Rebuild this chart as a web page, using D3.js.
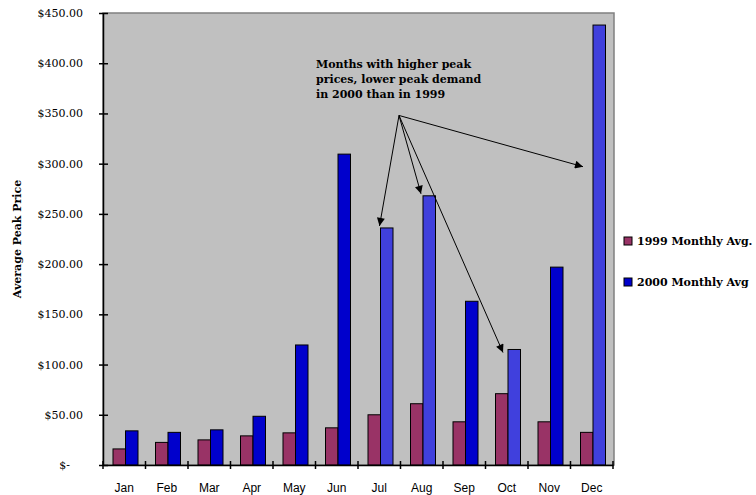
<!DOCTYPE html>
<html><head><meta charset="utf-8">
<script src="https://cdn.jsdelivr.net/npm/d3@7"></script>
<style>body{margin:0;background:#fff}svg{display:block}</style>
</head><body><svg id="c" width="756" height="495"></svg>
<script>
const months = ["Jan","Feb","Mar","Apr","May","Jun","Jul","Aug","Sep","Oct","Nov","Dec"];
const avg1999 = [16, 22.5, 25, 29, 32, 37, 50, 61, 43, 71, 43, 32.5];
const avg2000 = [34, 32.5, 35, 48.5, 119.5, 309.5, 236, 268, 163, 115, 197, 438];
const highlight2000 = ["Jul","Aug","Oct","Dec"];
const seriesNames = ["1999 Monthly Avg.","2000 Monthly Avg"];
const yTicks = [0,50,100,150,200,250,300,350,400,450];
const noteLines = ["Months with higher peak","prices, lower peak demand","in 2000 than in 1999"];
// arrow tips in data units: month and price level
const arrowTips = [
  {month:"Jul", value:238, dx:-1},
  {month:"Aug", value:270, dx:-2},
  {month:"Oct", value:112, dx:-5},
  {month:"Dec", value:297, dx:-10}
];
const arrowOrigin = {month:"Jul", value:348, dx:41};

const svg = d3.select("#c");
const L=103, R=614, T=13, B=465;
const x = d3.scaleBand().domain(months).range([L, 613]);
const x1 = d3.scaleBand().domain(["1999","2000"]).range([10, 35]);
const y = d3.scaleLinear().domain([0,450]).range([B, T]);

const defs = svg.append("defs");
defs.append("marker").attr("id","ah").attr("viewBox","0 0 10 10").attr("refX",10).attr("refY",5)
  .attr("markerWidth",10).attr("markerHeight",8).attr("markerUnits","userSpaceOnUse").attr("orient","auto")
  .append("path").attr("d","M0,0L10,5L0,10Z").attr("fill","#000");

// plot area
svg.append("rect").attr("x",L).attr("y",T).attr("width",R-L).attr("height",B-T)
  .attr("fill","#c0c0c0").attr("stroke","#808080").attr("stroke-width",1.5);

// bars
const g = svg.append("g");
months.forEach((m,i)=>{
  g.append("rect").attr("x",x(m)+x1("1999")).attr("y",y(avg1999[i])).attr("width",x1.bandwidth())
    .attr("height",y(0)-y(avg1999[i])).attr("fill","#993366").attr("stroke","#000").attr("stroke-width",1);
  g.append("rect").attr("x",x(m)+x1("2000")).attr("y",y(avg2000[i])).attr("width",x1.bandwidth())
    .attr("height",y(0)-y(avg2000[i])).attr("fill",highlight2000.includes(m)?"#4040dd":"#0000cc")
    .attr("stroke","#000").attr("stroke-width",1);
});

// y axis
const ya = svg.append("g").attr("transform",`translate(${L},0)`)
  .call(d3.axisLeft(y).tickValues(yTicks).tickSize(4).tickSizeOuter(0)
    .tickFormat(d=> d===0 ? "$-" : "$"+d3.format(".2f")(d)));
ya.select(".domain").attr("stroke","#000").attr("stroke-width",1.5);
ya.selectAll(".tick line").attr("x1",-4).attr("x2",5).attr("stroke","#000").attr("stroke-width",1.5);
ya.selectAll(".tick text").attr("x",-20).attr("font-family","DejaVu Serif").attr("font-size",11).attr("fill","#000");
ya.selectAll(".tick").filter(d=>d===0).select("text").attr("x",-33);

// x axis
const xa = svg.append("g").attr("transform",`translate(0,${B})`)
  .call(d3.axisBottom(x).tickSize(0).tickSizeOuter(0));
xa.select(".domain").attr("stroke","#000").attr("stroke-width",1.5);
xa.selectAll(".tick text").attr("y",18).attr("font-family","Liberation Sans, Arial").attr("font-size",12).attr("fill","#000");
const bnd = months.map(m=>x(m)).concat([x.range()[1]]);
xa.selectAll("line.sep").data(bnd).enter().append("line").attr("class","sep")
  .attr("x1",d=>d).attr("x2",d=>d).attr("y1",-4).attr("y2",4).attr("stroke","#000").attr("stroke-width",1.5);

// y title
svg.append("text").attr("transform","translate(21,239) rotate(-90)").attr("text-anchor","middle")
  .attr("font-family","DejaVu Serif").attr("font-weight","bold").attr("font-size",11).text("Average Peak Price");

// annotation
const note = svg.append("text").attr("x",316).attr("y",68).attr("font-family","DejaVu Serif")
  .attr("font-weight","bold").attr("font-size",11).attr("fill","#000");
noteLines.forEach((t,i)=> note.append("tspan").attr("x",316).attr("dy", i===0?0:15).text(t));
const ox = x(arrowOrigin.month)+arrowOrigin.dx, oy = y(arrowOrigin.value);
arrowTips.forEach(a=>{
  svg.append("line").attr("x1",ox).attr("y1",oy)
    .attr("x2",x(a.month)+x1("2000")+a.dx).attr("y2",y(a.value))
    .attr("stroke","#000").attr("stroke-width",1).attr("marker-end","url(#ah)");
});

// legend
const lg = svg.append("g");
seriesNames.forEach((s,i)=>{
  const cy = 241 + i*41;
  lg.append("rect").attr("x",624).attr("y",cy-4).attr("width",8).attr("height",8)
    .attr("fill", i===0?"#993366":"#0000cc").attr("stroke","#000").attr("stroke-width",1);
  lg.append("text").attr("x",637).attr("y",cy+4).attr("font-family","DejaVu Serif").attr("font-weight","bold")
    .attr("font-size",11).text(s);
});
</script></body></html>
